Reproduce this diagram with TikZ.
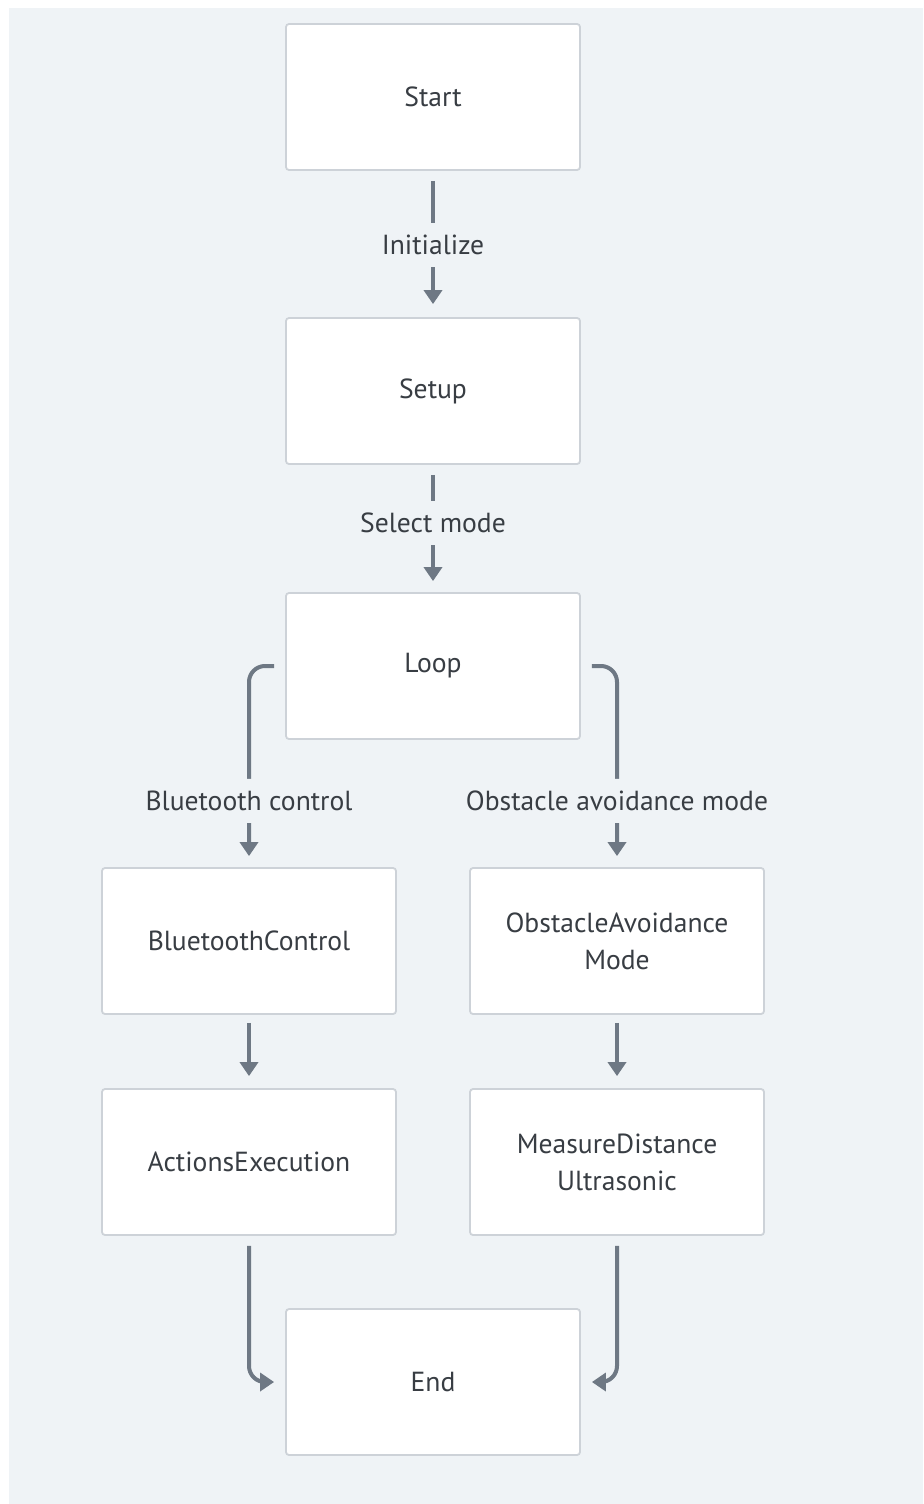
\documentclass[tikz,border=0pt]{standalone}
\usepackage{fontspec}
\setmainfont{PT Sans}
\usetikzlibrary{arrows.meta}
\definecolor{bgc}{HTML}{EFF3F6}
\definecolor{linec}{HTML}{6E7884}
\definecolor{boxb}{HTML}{CDD2D8}
\definecolor{txtc}{HTML}{383D43}
\tikzset{
  box/.style={draw=boxb, line width=0.9pt, fill=white, rounded corners=1.5pt,
    minimum width=147pt, minimum height=73pt, align=center, text=txtc,
    font=\fontsize{13.8}{18.5}\selectfont},
  conn/.style={draw=linec, line width=2pt, -{Triangle[width=9pt,length=7pt]}},
  lbl/.style={fill=bgc, text=txtc, inner sep=0pt, minimum height=22pt,
    font=\fontsize{13.8}{15}\selectfont}
}
\begin{document}
\begin{tikzpicture}[x=0.5pt,y=-0.5pt]
\useasboundingbox (0,0) rectangle (923,1504);
\fill[white] (0,0) rectangle (923,1504);
\fill[bgc] (9,8) rectangle (923,1504);
\node[box] (start) at (433,97) {Start};
\node[box] (setup) at (433,391) {Setup};
\node[box] (loop) at (433,666) {Loop};
\node[box] (bt) at (249,941) {BluetoothControl};
\node[box] (oa) at (617,941) {ObstacleAvoidance\\Mode};
\node[box] (act) at (249,1162) {ActionsExecution};
\node[box] (md) at (617,1162) {MeasureDistance\\Ultrasonic};
\node[box] (end) at (433,1382) {End};
\draw[conn] ([yshift=-5pt]start.south) -- node[lbl, pos=0.52]{Initialize} ([yshift=6.5pt]setup.north);
\draw[conn] ([yshift=-5pt]setup.south) -- node[lbl, pos=0.45]{Select mode} ([yshift=5.5pt]loop.north);
\draw[conn, rounded corners=8pt] ([xshift=-5.5pt]loop.west) -| node[lbl, pos=0.855]{Bluetooth control} ([yshift=5.5pt]bt.north);
\draw[conn, rounded corners=8pt] ([xshift=5.5pt]loop.east) -| node[lbl, pos=0.855]{Obstacle avoidance mode} ([yshift=5.5pt]oa.north);
\draw[conn] ([yshift=-4pt]bt.south) -- ([yshift=6pt]act.north);
\draw[conn] ([yshift=-4pt]oa.south) -- ([yshift=6pt]md.north);
\draw[conn, rounded corners=8pt] ([yshift=-5pt]act.south) |- ([xshift=-5.5pt]end.west);
\draw[conn, rounded corners=8pt] ([yshift=-5pt]md.south) |- ([xshift=5.5pt]end.east);
\end{tikzpicture}
\end{document}
